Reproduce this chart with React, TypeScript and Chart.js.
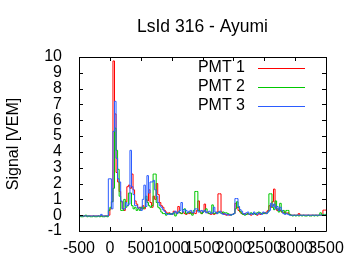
import React, { useEffect, useRef } from "react";
import { Chart, registerables } from "chart.js";

Chart.register(...registerables);

const TITLE = "LsId 316 - Ayumi";
const Y_LABEL = "Signal [VEM]";
const SERIES_NAMES = ["PMT 1", "PMT 2", "PMT 3"];
const SERIES_COLORS = ["#ff0000", "#00c800", "#2b5cff"];

const BIN_START = -500;
const BIN_WIDTH = 25;

const X_TICKS = [-500, 0, 500, 1000, 1500, 2000, 2500, 3000, 3500];
const Y_TICKS = [-1, 0, 1, 2, 3, 4, 5, 6, 7, 8, 9, 10];

const PMT1 = [
  -0.05, -0.05, -0.05, -0.05, -0.05, -0.05, -0.05, -0.05, -0.05, -0.05,
  -0.05, -0.05, -0.05, -0.05, -0.05, -0.05, -0.05, -0.05, -0.05, -0.05,
  0.0, 0.4, 0.85, 9.75, 6.4, 2.7, 2.1, 1.5, 0.85, 0.4,
  0.3, 0.85, 1.8, 1.9, 1.7, 2.6, 1.6, 0.9, 0.7, 0.45,
  0.5, 0.4, 0.6, 0.4, 1.0, 0.9, 1.6, 0.8, 0.5, 1.2,
  1.0, 2.0, 1.3, 0.8, 0.6, 0.5, 0.3, 0.2, 0.1, 0.15,
  0.1, 0.05, 0.25, 0.2, 0.1, 0.55, 0.15, 0.1, 0.2, 0.1,
  0.05, 0.15, 0.1, 0.2, 0.1, 0.15, 0.1, 0.3, 0.9, 0.25,
  0.1, 0.2, 0.7, 0.2, 0.15, 0.1, 0.05, 0.1, 0.05, 0.1,
  0.2, 1.35, 1.35, 0.2, 0.1, 0.05, 0.0, 0.05, 0.0, 0.05,
  0.05, 0.1, 0.75, 0.5, 0.3, 0.2, 0.1, 0.05, 0.1, 0.05,
  0.1, 0.05, 0.0, 0.05, 0.1, 0.05, 0.0, 0.1, 0.05, 0.1,
  0.15, 0.1, 0.2, 0.3, 0.6, 0.5, 0.85, 1.65, 0.5, 0.3,
  0.4, 0.3, 0.2, 0.15, 0.2, 0.1, 0.15, 0.05, 0.0, 0.0,
  0.0, 0.0, 0.0, 0.1, 0.0, 0.0, 0.0, 0.0, 0.0, 0.0,
  0.0, 0.0, 0.0, 0.0, 0.0, 0.0, 0.0, 0.0, 0.0, 0.32,
];

const PMT2 = [
  -0.1, -0.05, -0.1, -0.1, -0.05, 0.0, -0.1, -0.05, -0.1, -0.1,
  -0.05, -0.1, -0.1, -0.05, -0.1, -0.05, -0.1, -0.1, -0.05, -0.1,
  0.3, 0.5, 0.85, 1.7, 5.5, 4.1, 2.9, 1.2, 0.3, 0.3,
  1.0, 0.5, 0.6, 1.4, 1.4, 0.6, 0.4, 0.5, 0.3, 0.4,
  0.3, 0.5, 0.4, 0.5, 1.2, 0.8, 0.6, 0.5, 0.6, 2.6,
  2.6, 0.8, 0.5, 0.4, 0.2, 0.1, 0.1, 0.0, 0.1, 0.1,
  0.05, 0.1, 0.15, -0.05, 0.1, 0.2, 0.15, 0.1, 0.35, 0.4,
  0.1, 0.15, 0.2, 0.1, 0.0, 0.3, 1.5, 1.5, 0.3, 0.2,
  0.1, 0.2, 0.3, 0.4, 0.15, 0.1, 0.15, 0.65, 0.1, 0.15,
  0.1, 0.2, 0.15, 0.1, 0.2, 0.15, 0.15, 0.1, 0.05, 0.0,
  0.05, 0.1, 0.4, 0.85, 0.5, 0.25, 0.1, 0.05, 0.0, 0.05,
  0.1, 0.05, 0.15, 0.1, 0.1, 0.05, 0.15, 0.2, 0.15, 0.1,
  0.1, 0.15, 0.1, 0.2, 1.35, 1.35, 0.5, 0.35, 0.9, 0.4,
  0.2, 0.75, 0.2, 0.3, 0.1, 0.3, 0.3, 0.05, 0.0, -0.05,
  0.0, -0.05, 0.0, -0.05, 0.0, -0.05, 0.0, -0.05, -0.05, 0.0,
  -0.05, -0.05, 0.0, -0.05, 0.0, -0.05, 0.0, 0.15, 0.0, 0.05,
];

const PMT3 = [
  -0.05, -0.05, -0.05, -0.05, -0.05, -0.05, -0.05, -0.05, -0.05, -0.05,
  -0.05, -0.05, -0.05, -0.05, -0.05, 0.05, -0.05, -0.05, -0.05, -0.05,
  2.3, 2.3, 0.4, 5.3, 7.2, 3.6, 2.3, 2.1, 0.9, 0.4,
  0.4, 0.8, 0.6, 0.7, 4.1, 1.8, 1.3, 0.6, 0.6, 0.45,
  0.45, 0.3, 1.0, 1.9, 0.55, 2.5, 1.4, 2.1, 2.1, 2.2,
  1.6, 1.2, 0.8, 0.6, 0.5, 0.35, 0.25, 0.1, 0.05, 0.05,
  0.1, 0.05, 0.15, 0.25, 0.1, 0.2, 0.3, 0.8, 0.2, 0.35,
  0.3, 0.15, 0.25, 0.3, 0.15, 0.2, 0.4, 0.4, 0.2, 0.25,
  0.3, 0.2, 0.3, 0.15, 0.2, 0.25, 0.1, 0.15, 0.5, 0.2,
  0.1, 0.2, 0.25, 0.1, 0.05, 0.1, 0.05, 0.0, 0.05, 0.0,
  0.05, 0.1, 1.05, 1.05, 0.55, 0.35, 0.25, 0.1, 0.05, 0.15,
  0.2, 0.05, 0.1, 0.05, 0.2, 0.1, 0.05, 0.15, 0.1, 0.05,
  0.2, 0.15, 0.1, 0.2, 0.3, 0.75, 0.55, 0.7, 0.4, 0.55,
  0.3, 0.5, 0.3, 0.1, 0.05, 0.1, 0.05, 0.0, 0.0, 0.0,
  0.0, 0.0, 0.0, 0.0, 0.0, 0.0, 0.0, 0.0, 0.0, 0.0,
  0.0, 0.0, 0.0, 0.0, 0.0, 0.0, 0.0, 0.0, 0.0, 0.0,
];

const SERIES = [PMT1, PMT2, PMT3];

const FONT = "'Liberation Sans', Arial, sans-serif";

function toSteps(values: number[]) {
  const pts = values.map((v, i) => ({ x: BIN_START + i * BIN_WIDTH, y: v }));
  pts.push({ x: BIN_START + values.length * BIN_WIDTH, y: values[values.length - 1] });
  return pts;
}

const framePlugin = {
  id: "gnuplotFrame",
  afterDraw(chart: any) {
    const { ctx, chartArea } = chart;
    const { left, right, top, bottom } = chartArea;
    const xs = chart.scales.x;
    const ys = chart.scales.y;
    ctx.save();
    ctx.strokeStyle = "#000";
    ctx.lineWidth = 1;
    ctx.beginPath();
    ctx.rect(Math.round(left) + 0.5, Math.round(top) + 0.5, Math.round(right - left), Math.round(bottom - top));
    ctx.stroke();
    const tl = 4;
    ctx.beginPath();
    X_TICKS.forEach((t) => {
      const px = Math.round(xs.getPixelForValue(t)) + 0.5;
      ctx.moveTo(px, bottom);
      ctx.lineTo(px, bottom - tl);
      ctx.moveTo(px, top);
      ctx.lineTo(px, top + tl);
    });
    Y_TICKS.forEach((t) => {
      const py = Math.round(ys.getPixelForValue(t)) + 0.5;
      ctx.moveTo(left, py);
      ctx.lineTo(left + tl, py);
      ctx.moveTo(right, py);
      ctx.lineTo(right - tl, py);
    });
    ctx.stroke();

    ctx.fillStyle = "#000";
    ctx.font = `17.5px ${FONT}`;
    ctx.textAlign = "center";
    ctx.textBaseline = "middle";
    ctx.fillText(TITLE, (left + right) / 2, 27);

    ctx.save();
    ctx.translate(14, (top + bottom) / 2);
    ctx.rotate(-Math.PI / 2);
    ctx.font = `16px ${FONT}`;
    ctx.fillText(Y_LABEL, 0, 0);
    ctx.restore();

    ctx.font = `16px ${FONT}`;
    ctx.textAlign = "right";
    SERIES_NAMES.forEach((name, i) => {
      const y = 68 + i * 19;
      ctx.fillStyle = "#000";
      ctx.fillText(name, 245, y);
      ctx.strokeStyle = SERIES_COLORS[i];
      ctx.beginPath();
      ctx.moveTo(258, Math.round(y) + 0.5);
      ctx.lineTo(305, Math.round(y) + 0.5);
      ctx.stroke();
    });
    ctx.restore();
  },
};

export default function App() {
  const ref = useRef<HTMLCanvasElement | null>(null);

  useEffect(() => {
    if (!ref.current) return;
    const chart = new Chart(ref.current, {
      type: "line",
      data: {
        datasets: SERIES.map((vals, i) => ({
          label: SERIES_NAMES[i],
          data: toSteps(vals),
          borderColor: SERIES_COLORS[i],
          backgroundColor: SERIES_COLORS[i],
          borderWidth: 1,
          pointRadius: 0,
          fill: false,
          stepped: "after" as const,
          order: 3 - i,
        })),
      },
      options: {
        animation: false,
        responsive: false,
        devicePixelRatio: 1,
        layout: { padding: { top: 57, right: 34, left: 0, bottom: 0 } },
        plugins: {
          legend: { display: false },
          title: { display: false },
          tooltip: { enabled: false },
        },
        scales: {
          x: {
            type: "linear",
            min: -500,
            max: 3500,
            afterBuildTicks: (scale: any) => {
              scale.ticks = X_TICKS.map((v) => ({ value: v }));
            },
            afterFit: (scale: any) => {
              scale.height = 39;
            },
            ticks: {
              autoSkip: false,
              maxRotation: 0,
              minRotation: 0,
              padding: 8,
              color: "#000",
              font: { family: FONT, size: 16 },
              callback: (v: any) => String(v),
            },
            grid: { display: false, drawTicks: false },
            border: { display: false },
          },
          y: {
            type: "linear",
            min: -1,
            max: 10,
            afterBuildTicks: (scale: any) => {
              scale.ticks = Y_TICKS.map((v) => ({ value: v }));
            },
            afterFit: (scale: any) => {
              scale.width = 79;
            },
            ticks: {
              autoSkip: false,
              padding: 17,
              color: "#000",
              font: { family: FONT, size: 16 },
              callback: (v: any) => String(v),
            },
            grid: { display: false, drawTicks: false },
            border: { display: false },
          },
        },
      },
      plugins: [framePlugin],
    });
    return () => chart.destroy();
  }, []);

  return (
    <div style={{ position: "fixed", left: 0, top: 0, width: 360, height: 270, background: "#fff" }}>
      <canvas ref={ref} width={360} height={270} />
    </div>
  );
}
